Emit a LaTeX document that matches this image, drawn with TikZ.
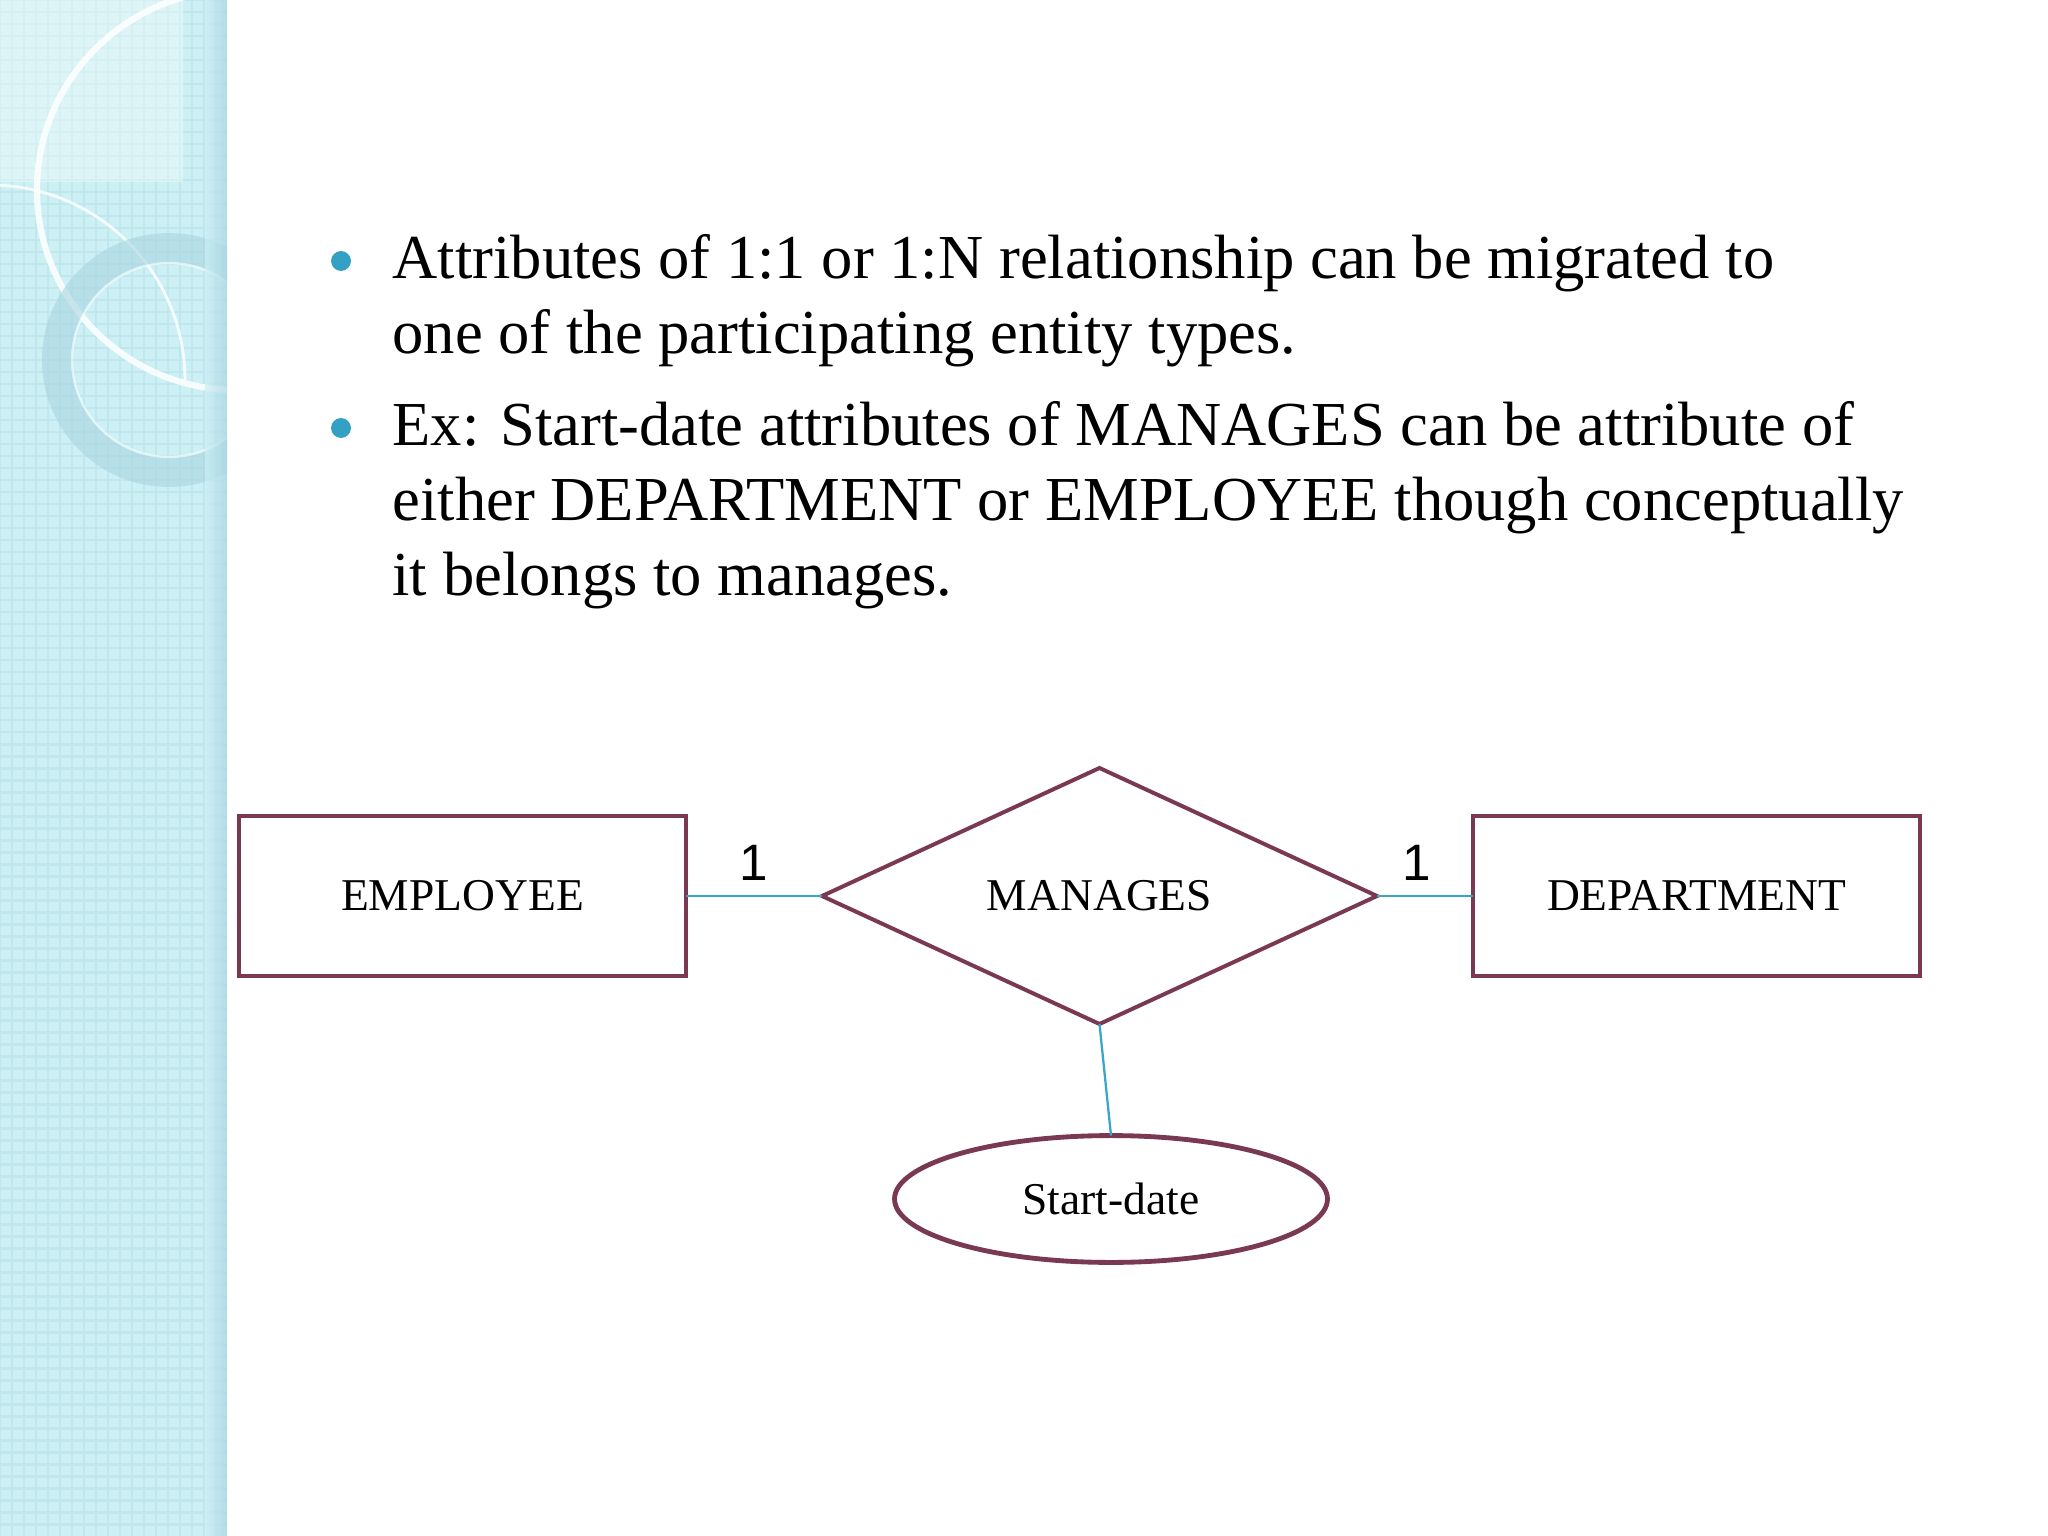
\documentclass[tikz,border=0pt]{standalone}
\usepackage{fontspec}
\setmainfont{Liberation Serif}
\newfontfamily\cardfont{Liberation Sans}
\usetikzlibrary{shapes.geometric}
\definecolor{erline}{RGB}{122,57,82}
\definecolor{erlink}{RGB}{58,165,200}
\definecolor{dotblue}{RGB}{52,160,195}
\definecolor{bandbg}{RGB}{205,240,245}
\definecolor{bandgrid}{RGB}{192,231,238}
\definecolor{ringbg}{RGB}{168,212,223}

\begin{document}
\begin{tikzpicture}[x=0.3515625pt, y=-0.3515625pt,
  entity/.style={draw=erline, line width=1.4pt, minimum width=157.2pt, minimum height=56.3pt, outer sep=0pt, font=\fontsize{16}{19}\selectfont},
  relship/.style={diamond, draw=erline, line width=1.4pt, minimum width=195.1pt, minimum height=90pt, inner sep=0pt, outer sep=0pt, font=\fontsize{16}{19}\selectfont},
  attrib/.style={ellipse, draw=erline, line width=1.7pt, minimum width=152.2pt, minimum height=44.6pt, outer sep=0pt, font=\fontsize{16}{19}\selectfont},
  link/.style={draw=erlink, line width=1pt},
  card/.style={font=\cardfont\fontsize{18}{20}\selectfont, inner sep=5pt},
  dot/.style={circle, fill=dotblue, minimum size=7pt, inner sep=0pt},
  item/.style={align=left, inner sep=0pt, font=\fontsize{22}{26.4}\selectfont}]
\useasboundingbox (0,0) rectangle (2048,1536);
\fill[white] (0,0) rectangle (2048,1536);
% side band
\begin{scope}
\clip (0,0) rectangle (227,1536);
\fill[bandbg] (0,0) rectangle (227,1536);
\draw[bandgrid, line width=0.9pt] (0,0) grid[step=4.22pt] (227,1536);
\fill[white, opacity=0.35] (0,0) rectangle (183,182);
\draw[white, line width=1pt, opacity=0.8] (-10,185) arc[start angle=270, end angle=360, radius=195];
\draw[white, line width=2.2pt, opacity=0.85] (237,190) circle[radius=200];
\fill[ringbg, opacity=0.6, even odd rule] (169,360) circle[radius=127] (169,360) circle[radius=97];
\draw[white, line width=0.8pt, opacity=0.6] (169,360) circle[radius=97];
\shade[left color=bandbg, right color=ringbg, opacity=0.7] (205,0) rectangle (227,1536);
\end{scope}
% bullets
\draw (341,261) node[dot](d1){};
\draw (341,428) node[dot](d2){};
\draw (392,354) node[item, anchor=base west](t1){Attributes of 1:1 or 1:N relationship can be migrated to\\one of the participating entity types.};
\draw (392,596) node[item, anchor=base west](t2){Ex: Start-date attributes of MANAGES can be attribute of\\either DEPARTMENT or EMPLOYEE though conceptually\\it belongs to manages.};
% ER diagram
\draw (462.5,896)node[entity](emp){EMPLOYEE};
\draw (1099.5,896)node[relship](mng){MANAGES};
\draw (1696.5,896)node[entity](dep){DEPARTMENT};
\draw (1111,1199)node[attrib](sd){Start-date};
\path[link] (emp) edge node[card, above]{1}(mng);
\path[link] (mng) edge node[card, above, xshift=-3pt]{1}(dep);
\path[link, line width=0.8pt] (mng.south) edge (sd.north);
\end{tikzpicture}
\end{document}
